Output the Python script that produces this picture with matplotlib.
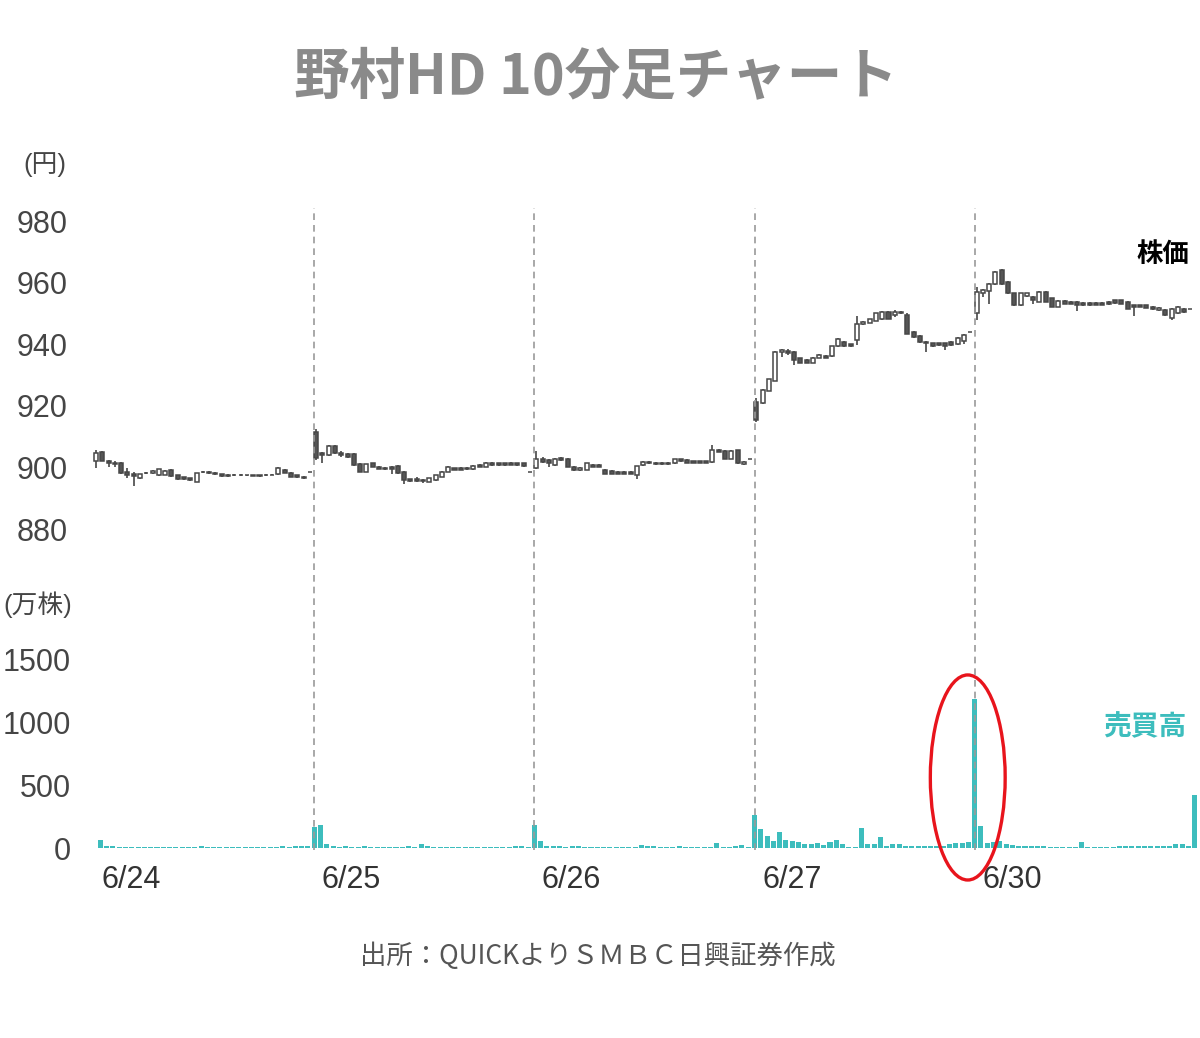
"""
nomura_10min.py
===============

野村HD 10分足チャート (6/24 - 6/30): candlesticks on top, volume below,
dashed separators between trading days, and the closing-auction spike
on 6/27 circled in red.

Output: out.png (1200 x 1038)
"""
import numpy as np
import matplotlib
matplotlib.use("Agg")
import matplotlib.pyplot as plt
from matplotlib.patches import Ellipse
from matplotlib.transforms import blended_transform_factory

plt.rcParams["font.family"] = ["Liberation Sans", "Noto Sans CJK JP", "DejaVu Sans"]
CJK = ["Noto Sans CJK JP", "DejaVu Sans"]

DATES = ["6/24", "6/25", "6/26", "6/27", "6/30"]
BARS_PER_DAY = 35

# 10-minute OHLC (yen), one line per trading day
OPEN = [
    902.2, 905.0, 902.2, 901.5, 901.5, 898.5, 897.8, 896.5, 898.3, 898.2, 897.5, 897.6, 899.2, 897.4, 896.8, 896.5, 895.4, 898.4, 898.6, 898.3, 897.8, 897.6, 897.4, 897.6, 897.4, 897.5, 897.2, 897.4, 897.6, 897.9, 899.2, 898.3, 897.5, 897.0, 898.6,
    911.6, 904.8, 904.0, 907.0, 904.6, 904.4, 904.4, 901.2, 898.6, 901.3, 900.2, 899.8, 900.3, 900.5, 898.6, 896.1, 896.3, 896.0, 895.4, 895.9, 897.0, 898.6, 899.7, 899.9, 899.9, 899.4, 900.8, 900.2, 901.5, 901.3, 901.3, 901.5, 901.3, 901.3, 898.6,
    899.7, 902.9, 902.4, 900.7, 903.1, 902.9, 900.2, 899.2, 899.3, 900.8, 900.8, 899.3, 898.9, 898.6, 898.6, 898.6, 897.5, 900.7, 901.8, 901.6, 901.5, 901.5, 901.3, 902.6, 902.4, 902.0, 902.0, 902.0, 901.8, 905.8, 905.4, 902.9, 905.6, 901.0, 902.6,
    921.3, 920.8, 924.9, 928.2, 937.6, 937.9, 937.6, 935.4, 934.9, 934.0, 935.6, 936.3, 936.2, 939.4, 940.8, 940.0, 941.4, 946.6, 947.0, 947.6, 948.1, 950.5, 949.5, 950.6, 949.5, 944.1, 942.7, 940.8, 940.3, 940.3, 940.3, 940.8, 940.1, 941.0, 944.1,
    950.0, 956.5, 957.3, 959.5, 964.0, 960.3, 956.5, 952.7, 955.6, 955.4, 953.8, 957.0, 954.9, 952.2, 954.1, 953.8, 953.8, 953.4, 953.4, 953.4, 953.4, 953.8, 954.3, 954.3, 953.8, 952.7, 952.7, 952.7, 952.2, 951.1, 951.1, 948.4, 950.0, 951.6, 951.6,
]
HIGH = [
    905.7, 905.3, 902.4, 902.0, 901.8, 899.9, 898.6, 898.0, 898.6, 899.2, 899.6, 899.2, 899.4, 897.6, 897.0, 896.7, 898.3, 899.0, 898.8, 898.5, 898.0, 897.8, 897.8, 897.8, 897.7, 897.7, 897.7, 897.8, 897.9, 900.2, 899.4, 898.5, 897.7, 897.2, 898.6,
    912.4, 905.1, 907.2, 907.2, 905.5, 904.6, 904.6, 901.4, 901.2, 901.5, 900.4, 900.0, 900.5, 900.7, 898.8, 896.3, 897.0, 896.2, 896.7, 897.7, 898.8, 900.4, 899.9, 900.1, 900.1, 900.7, 901.0, 901.7, 901.7, 901.5, 901.5, 901.7, 901.5, 901.5, 898.6,
    905.4, 903.3, 902.6, 903.1, 903.3, 903.1, 900.4, 900.2, 901.5, 901.0, 901.2, 899.5, 899.1, 898.8, 898.8, 898.8, 900.6, 902.0, 902.0, 901.8, 901.7, 901.7, 902.8, 902.8, 902.6, 902.2, 902.2, 902.2, 907.2, 906.0, 905.6, 905.6, 905.8, 902.0, 902.6,
    922.7, 925.5, 928.8, 937.8, 938.4, 938.4, 937.8, 935.6, 935.1, 936.0, 936.7, 936.5, 939.6, 942.0, 941.0, 940.2, 949.2, 947.5, 948.3, 950.2, 950.8, 950.7, 951.0, 950.8, 950.0, 944.3, 942.9, 941.0, 940.5, 940.5, 940.5, 941.0, 942.4, 943.2, 944.1,
    958.6, 958.1, 960.0, 963.7, 964.6, 960.5, 956.7, 956.7, 956.8, 955.6, 957.2, 957.2, 955.1, 954.3, 954.3, 954.0, 954.0, 953.6, 953.6, 953.6, 953.6, 954.0, 954.5, 954.5, 954.0, 952.9, 952.9, 952.9, 952.4, 952.0, 951.3, 951.8, 952.4, 951.8, 951.6,
]
LOW = [
    899.7, 902.0, 900.0, 900.0, 897.9, 896.5, 894.0, 896.3, 897.8, 898.0, 897.3, 897.4, 897.0, 896.0, 896.0, 895.7, 895.2, 898.2, 897.9, 897.7, 897.0, 897.0, 897.2, 897.2, 897.2, 897.1, 897.0, 897.2, 897.4, 897.7, 898.1, 896.8, 896.5, 896.3, 898.6,
    902.4, 901.3, 903.8, 904.4, 903.5, 903.1, 900.6, 898.4, 898.4, 900.0, 899.4, 899.2, 898.0, 897.9, 894.5, 895.4, 895.3, 894.8, 895.2, 895.7, 896.8, 898.4, 899.1, 899.1, 899.2, 899.2, 900.0, 900.0, 900.6, 900.6, 900.6, 900.7, 900.6, 900.3, 898.6,
    899.5, 901.5, 900.2, 900.5, 902.2, 900.0, 898.9, 899.0, 899.1, 900.0, 900.0, 897.8, 897.8, 897.8, 897.8, 897.8, 896.4, 900.5, 901.1, 900.8, 900.8, 900.8, 901.1, 901.8, 901.4, 901.3, 901.3, 901.3, 901.6, 904.9, 902.7, 902.7, 901.1, 900.8, 902.6,
    914.8, 920.6, 924.7, 928.0, 936.0, 936.5, 933.2, 933.8, 933.8, 933.8, 935.4, 935.4, 936.0, 939.2, 939.2, 939.2, 939.7, 946.4, 946.8, 947.4, 947.9, 948.1, 948.9, 949.8, 943.3, 942.2, 940.4, 937.6, 939.2, 939.5, 938.1, 939.5, 939.9, 940.0, 944.1,
    948.0, 955.4, 953.2, 959.3, 959.3, 956.3, 952.5, 952.5, 955.4, 953.0, 953.6, 953.6, 952.0, 952.0, 953.0, 953.0, 950.8, 952.5, 952.5, 952.7, 952.6, 952.8, 953.2, 953.0, 951.4, 949.1, 952.0, 951.7, 951.1, 950.9, 949.2, 948.0, 949.8, 950.3, 951.6,
]
CLOSE = [
    904.8, 902.2, 901.3, 901.0, 898.1, 897.5, 897.2, 897.8, 898.1, 898.9, 899.4, 899.0, 897.2, 896.2, 896.2, 895.9, 898.1, 898.6, 898.1, 897.9, 897.2, 897.2, 897.6, 897.4, 897.5, 897.3, 897.5, 897.6, 897.7, 899.9, 898.3, 897.0, 897.0, 896.5, 898.6,
    903.0, 904.0, 907.0, 904.6, 904.0, 903.3, 900.8, 898.6, 901.0, 900.2, 899.6, 899.4, 899.6, 898.1, 895.9, 895.6, 895.5, 895.6, 896.5, 897.5, 898.6, 900.2, 899.3, 899.3, 899.4, 900.5, 900.2, 901.5, 900.8, 900.8, 900.8, 900.9, 900.8, 900.5, 898.6,
    902.9, 901.8, 901.5, 902.9, 902.4, 900.2, 899.1, 899.9, 901.3, 900.2, 900.2, 898.0, 898.0, 898.0, 898.0, 898.0, 900.4, 901.8, 901.3, 901.0, 901.0, 901.0, 902.6, 902.0, 901.6, 901.5, 901.5, 901.5, 905.6, 905.1, 902.9, 905.4, 901.3, 901.8, 902.6,
    915.4, 925.1, 928.6, 937.6, 938.1, 937.3, 934.9, 934.0, 934.0, 935.7, 936.5, 935.6, 939.4, 941.6, 939.4, 939.4, 946.6, 947.3, 948.1, 950.0, 950.6, 948.3, 950.6, 950.0, 943.5, 942.4, 940.6, 940.3, 939.4, 939.7, 939.4, 939.7, 942.2, 943.0, 944.1,
    957.0, 957.6, 959.7, 963.5, 959.5, 956.5, 952.7, 956.5, 956.5, 954.5, 957.0, 953.8, 952.2, 954.1, 953.2, 953.2, 952.7, 952.7, 952.7, 952.9, 952.8, 953.0, 953.4, 953.2, 951.6, 952.2, 952.2, 951.9, 951.3, 951.8, 949.4, 951.6, 952.2, 950.5, 951.6,
]
# 売買高 (万株)
VOLUME = [
    65, 13, 13, 10, 10, 10, 10, 8, 8, 8, 12, 8, 8, 12, 12, 10, 18, 10, 8, 8, 8, 8, 8, 8, 8, 12, 8, 8, 12, 20, 12, 20, 14, 20, 167,
    183, 32, 18, 10, 14, 10, 10, 14, 8, 8, 8, 8, 8, 12, 20, 8, 32, 14, 8, 10, 10, 10, 8, 10, 8, 8, 10, 10, 10, 10, 10, 18, 14, 8, 183,
    56, 18, 14, 14, 10, 14, 14, 8, 10, 10, 10, 10, 10, 8, 8, 8, 26, 14, 14, 10, 8, 10, 14, 10, 10, 10, 10, 10, 37, 10, 10, 20, 22, 12, 262,
    148, 98, 58, 130, 64, 58, 45, 29, 29, 37, 24, 50, 64, 29, 10, 8, 156, 32, 32, 90, 20, 32, 32, 20, 20, 20, 20, 20, 20, 20, 29, 37, 42, 48, 1182,
    178, 42, 50, 58, 32, 24, 20, 20, 14, 14, 18, 10, 10, 10, 10, 8, 48, 10, 10, 10, 10, 10, 14, 14, 20, 14, 14, 14, 14, 14, 20, 29, 29, 14, 421,
]
PRICE_TICKS = [880, 900, 920, 940, 960, 980]
VOLUME_TICKS = [0, 500, 1000, 1500]

DARK = "#474747"
TEAL = "#3dbdbd"
TICK_GREY = "#454545"


def main() -> None:
    o, h, l, c = (np.array(a, dtype=float) for a in (OPEN, HIGH, LOW, CLOSE))
    vol = np.array(VOLUME, dtype=float)
    idx = np.arange(len(o))
    up = c >= o
    day_starts = np.arange(len(DATES)) * BARS_PER_DAY

    fig = plt.figure(figsize=(12, 10.38), dpi=100)
    fig.patch.set_facecolor("white")
    xlim = (-0.95, 175.2)

    # ---- price panel ----
    ax = fig.add_axes([0.075, 0.4755, 0.9233, 0.3278])
    ax.vlines(idx, l, h, color=DARK, linewidth=1.2, zorder=2)
    ax.bar(idx, np.abs(c - o), bottom=np.minimum(o, c), width=0.64,
           color=np.where(up, "white", "#555555"), edgecolor=DARK,
           linewidth=1.1, zorder=3)
    ax.set_xlim(*xlim)
    ax.set_ylim(875, 985.5)
    ax.set_yticks(PRICE_TICKS)
    ax.set_xticks([])
    ax.tick_params(axis="y", length=0, labelsize=22, labelcolor=TICK_GREY, pad=16)
    for s in ax.spines.values():
        s.set_visible(False)

    # ---- volume panel ----
    axv = fig.add_axes([0.075, 0.1830, 0.9233, 0.1894])
    axv.bar(idx + 0.7, vol, width=0.8, color=TEAL, zorder=2)
    axv.set_xlim(*xlim)
    axv.set_ylim(0, 1560)
    axv.set_yticks(VOLUME_TICKS)
    axv.set_xticks([])
    axv.tick_params(axis="y", length=0, labelsize=22, labelcolor=TICK_GREY, pad=14)
    for s in axv.spines.values():
        s.set_visible(False)

    # date labels under the volume bars
    trans = blended_transform_factory(axv.transData, axv.transAxes)
    for d0, lab in zip(day_starts, DATES):
        axv.text(d0 + 0.9, -0.163, lab, transform=trans, ha="left", va="center",
                 fontsize=22, color="#333333")

    # red circle round the 6/27 closing spike
    axv.add_patch(Ellipse((138.6, 560), width=11.9, height=1627, fill=False,
                          edgecolor="#e8141c", linewidth=2.4, clip_on=False, zorder=6))

    # ---- day separators across both panels ----
    axd = fig.add_axes([0.075, 0.1811, 0.9233, 0.6185])
    axd.set_xlim(*xlim)
    axd.set_ylim(0, 1)
    axd.vlines(day_starts[1:] - 0.3, 0, 1, color="#9a9a9a", linewidth=1.2,
               linestyles=(0, (4, 3)))
    axd.axis("off")

    # ---- texts ----
    fig.text(0.4967, 1 - 77 / 1038, "野村HD 10分足チャート", ha="center", va="center",
             fontsize=40, fontweight="bold", color="#8a8a8a", family=CJK)
    fig.text(45 / 1200, 1 - 165 / 1038, "(円)", ha="center", va="center",
             fontsize=18.5, color=TICK_GREY)
    fig.text(38 / 1200, 1 - 605 / 1038, "(万株)", ha="center", va="center",
             fontsize=18.5, color=TICK_GREY)
    fig.text(1163 / 1200, 1 - 254 / 1038, "株価", ha="center", va="center",
             fontsize=19, fontweight="bold", color="black", family=CJK)
    fig.text(1145 / 1200, 1 - 727 / 1038, "売買高", ha="center", va="center",
             fontsize=20, fontweight="bold", color=TEAL, family=CJK)
    fig.text(598 / 1200, 1 - 956 / 1038, "出所：QUICKよりＳＭＢＣ日興証券作成",
             ha="center", va="center", fontsize=19, color="#555555", family=CJK)

    fig.savefig("out.png", dpi=100, facecolor="white")


if __name__ == "__main__":
    main()
